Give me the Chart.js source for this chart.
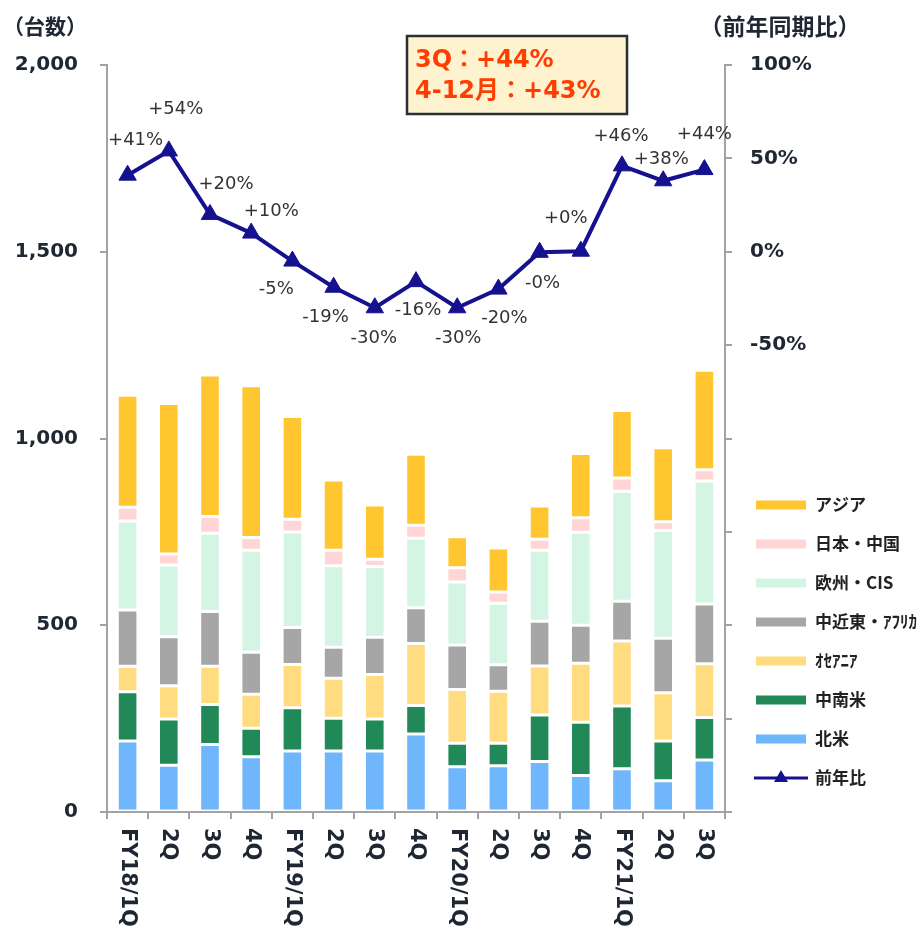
<!DOCTYPE html>
<html lang="ja">
<head>
<meta charset="utf-8">
<title>地域別販売台数</title>
<script src="https://cdn.jsdelivr.net/npm/chart.js@4.4.0/dist/chart.umd.min.js"></script>
<style>
  html, body { margin: 0; padding: 0; background: #fff; }
  #wrap { width: 922px; height: 929px; position: relative; }
</style>
</head>
<body>
<div id="wrap"><canvas id="myChart"></canvas></div>
<script>
// quarterly unit sales by region (stacked) and year-on-year change (line)
var quarters = ['FY18/1Q', '2Q', '3Q', '4Q', 'FY19/1Q', '2Q', '3Q', '4Q', 'FY20/1Q', '2Q', '3Q', '4Q', 'FY21/1Q', '2Q', '3Q'];

var northAmerica = [190, 125, 181, 148, 163, 163, 163, 209, 121, 124, 135, 98, 116, 84, 139];
var latinAmerica = [132, 124, 107, 76, 116, 88, 86, 76, 63, 60, 125, 142, 168, 106, 114];
var oceania = [68, 89, 102, 91, 116, 107, 119, 166, 144, 139, 131, 158, 174, 129, 144];
var middleEastAfrica = [151, 131, 147, 113, 99, 83, 100, 96, 119, 71, 120, 102, 106, 146, 160];
var europeCis = [238, 192, 209, 273, 256, 218, 189, 186, 169, 165, 190, 249, 295, 289, 329];
var japanChina = [37, 30, 45, 34, 34, 42, 20, 35, 38, 30, 29, 39, 35, 23, 30];
var asia = [300, 403, 379, 406, 275, 188, 145, 190, 83, 118, 89, 172, 181, 198, 267];

var yoyChange = [41, 54, 20, 10, -5, -19, -30, -16, -30, -20, -0.3, 0.3, 46, 38, 44];

var leftTicks = [0, 500, 1000, 1500, 2000];
var rightTickLabels = [100, 50, 0, -50];

// where each % label sits relative to its point
var labelOffsets = [[8, -35], [7, -42], [16, -30], [20, -22], [-16, 28], [-8, 30], [-1, 31], [2, 29],
  [1, 31], [6, 29], [3, 31], [-15, -33], [-1, -30], [-2, -21], [0, -35]];

var font = "'DejaVu Sans', 'Noto Sans CJK JP', sans-serif";
var jpFont = "'Noto Sans CJK JP', sans-serif";
var ink = '#1f2733';
var axisGray = '#a3a3a3';
var navy = '#16118f';

var barSeries = [
  { label: '北米', data: northAmerica, color: '#6fb6fd' },
  { label: '中南米', data: latinAmerica, color: '#218857' },
  { label: 'ｵｾｱﾆｱ', data: oceania, color: '#ffdc80' },
  { label: '中近東・ｱﾌﾘｶ', data: middleEastAfrica, color: '#a6a6a6' },
  { label: '欧州・CIS', data: europeCis, color: '#d5f5e4' },
  { label: '日本・中国', data: japanChina, color: '#ffd5d6' },
  { label: 'アジア', data: asia, color: '#ffc62f' }
];

var datasets = barSeries.map(function (s) {
  return {
    type: 'bar',
    label: s.label,
    data: s.data,
    backgroundColor: s.color,
    borderColor: '#ffffff',
    borderWidth: 1.5,
    borderSkipped: false,
    yAxisID: 'y',
    order: 1,
    barPercentage: 0.5,
    categoryPercentage: 1
  };
});

datasets.push({
  type: 'line',
  label: '前年比',
  data: yoyChange,
  yAxisID: 'y1',
  order: 0,
  borderColor: navy,
  backgroundColor: navy,
  borderWidth: 4,
  pointStyle: 'triangle',
  pointRadius: 10,
  pointHoverRadius: 10,
  pointBorderWidth: 1,
  tension: 0
});

function fmtPct(v) {
  return (v < 0 || Object.is(v, -0) ? '-' : '+') + Math.round(Math.abs(v)) + '%';
}

var overlay = {
  id: 'overlay',
  afterDatasetsDraw: function (chart) {
    var ctx = chart.ctx;
    var meta = chart.getDatasetMeta(chart.data.datasets.length - 1);
    ctx.save();
    ctx.font = '18px ' + font;
    ctx.fillStyle = '#333333';
    ctx.textAlign = 'center';
    ctx.textBaseline = 'middle';
    meta.data.forEach(function (pt, i) {
      var off = labelOffsets[i];
      ctx.fillText(fmtPct(yoyChange[i]), pt.x + off[0], pt.y + off[1]);
    });
    ctx.restore();
  },
  afterDraw: function (chart) {
    var ctx = chart.ctx;
    var xs = chart.scales.x;
    ctx.save();

    // category labels, turned to read top to bottom
    ctx.fillStyle = ink;
    ctx.font = 'bold 21px ' + font;
    ctx.textAlign = 'left';
    ctx.textBaseline = 'middle';
    quarters.forEach(function (q, i) {
      ctx.save();
      ctx.translate(xs.getPixelForTick(i), 828);
      ctx.rotate(Math.PI / 2);
      ctx.fillText(q, 0, 0);
      ctx.restore();
    });

    // axis titles
    ctx.textAlign = 'center';
    ctx.font = 'bold 21px ' + jpFont;
    ctx.fillText('（台数）', 45, 26);
    ctx.font = 'bold 23px ' + jpFont;
    ctx.fillText('（前年同期比）', 780, 26);

    // callout box
    ctx.fillStyle = '#fff2cf';
    ctx.fillRect(407, 36, 220, 78);
    ctx.strokeStyle = '#2a2f33';
    ctx.lineWidth = 2.5;
    ctx.strokeRect(407, 36, 220, 78);
    ctx.fillStyle = '#fe3d00';
    ctx.font = 'bold 24px ' + font;
    ctx.textAlign = 'left';
    ctx.fillText('3Q：+44%', 415, 61);
    ctx.fillText('4-12月：+43%', 415, 92);

    // legend
    var items = chart.data.datasets.slice(0, barSeries.length).reverse();
    ctx.font = 'bold 17px ' + jpFont;
    items.forEach(function (ds, i) {
      var cy = 505 + i * 39;
      ctx.fillStyle = ds.backgroundColor;
      ctx.fillRect(756, cy - 4.5, 50, 9);
      ctx.fillStyle = '#222222';
      ctx.fillText(ds.label, 815, cy);
    });
    var ly = 505 + items.length * 39;
    ctx.strokeStyle = navy;
    ctx.lineWidth = 3;
    ctx.beginPath();
    ctx.moveTo(754, ly);
    ctx.lineTo(808, ly);
    ctx.stroke();
    ctx.fillStyle = navy;
    ctx.beginPath();
    ctx.moveTo(781, ly - 8);
    ctx.lineTo(788, ly + 4);
    ctx.lineTo(774, ly + 4);
    ctx.closePath();
    ctx.fill();
    ctx.fillStyle = '#222222';
    ctx.fillText('前年比', 815, ly);

    ctx.restore();
  }
};

var ctx = document.getElementById('myChart').getContext('2d');
var myChart = new Chart(ctx, {
  data: {
    labels: quarters,
    datasets: datasets
  },
  options: {
    responsive: true,
    maintainAspectRatio: false,
    animation: false,
    layout: { padding: { top: 65, left: 0, right: 0, bottom: 0 } },
    plugins: {
      legend: { display: false },
      tooltip: { enabled: false }
    },
    scales: {
      x: {
        stacked: true,
        grid: { display: true, drawOnChartArea: false, drawTicks: true, tickLength: 7, color: axisGray, lineWidth: 2, offset: true },
        border: { display: true, color: axisGray, width: 2 },
        ticks: { display: false },
        afterFit: function (s) { s.height = 117; }
      },
      y: {
        stacked: true,
        position: 'left',
        min: 0,
        max: 2000,
        afterBuildTicks: function (s) { s.ticks = leftTicks.map(function (v) { return { value: v }; }); },
        ticks: {
          padding: 22,
          color: ink,
          font: { family: font, size: 20, weight: 'bold' },
          callback: function (v) { return v.toLocaleString('en-US'); }
        },
        grid: { drawOnChartArea: false, tickLength: 7, color: axisGray, lineWidth: 2 },
        border: { display: true, color: axisGray, width: 2 },
        afterFit: function (s) { s.width = 107; }
      },
      y1: {
        position: 'right',
        min: -300,
        max: 100,
        ticks: {
          stepSize: 50,
          padding: 18,
          color: ink,
          font: { family: font, size: 20, weight: 'bold' },
          callback: function (v) { return rightTickLabels.indexOf(v) >= 0 ? v + '%' : ''; }
        },
        grid: { drawOnChartArea: false, tickLength: 7, color: axisGray, lineWidth: 2 },
        border: { display: true, color: axisGray, width: 2 },
        afterFit: function (s) { s.width = 197; }
      }
    }
  },
  plugins: [overlay]
});
</script>
</body>
</html>
